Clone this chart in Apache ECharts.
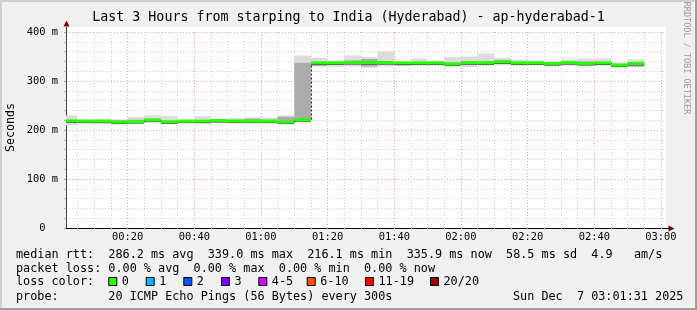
<!DOCTYPE html>
<html>
<head>
<meta charset="utf-8">
<script src="https://cdn.jsdelivr.net/npm/echarts@6/dist/echarts.min.js"></script>
<style>
html,body{margin:0;padding:0;background:#f0f0f0;}
#c{width:697px;height:310px;}
</style>
</head>
<body>
<div id="c"></div>
<script>
// ---------------- data ----------------
const TITLE = 'Last 3 Hours from starping to India (Hyderabad) - ap-hyderabad-1';
// end of each 5-minute bin, minutes after 00:00
const binEnd = [5,10,15,20,25,30,35,40,45,50,55,60,65,70,75,80,85,90,95,100,105,110,115,120,125,130,135,140,145,150,155,160,165,170,175];
// median RTT (ms)
const median = [218.5,218.1,218.1,216.1,217.4,220.1,216.8,218.1,218.1,219.4,218.1,218.1,218.1,216.1,221.4,
                337.0,337.0,337.7,337.7,337.7,337.0,337.0,337.0,334.6,337.7,337.0,339.0,337.0,337.0,335.9,337.7,335.9,337.0,332.5,335.9];
// lowest / highest ping (light smoke)
const pingLo = [209.8,213.7,213.0,212.3,213.0,216.0,214.4,214.4,213.0,214.4,214.4,214.4,214.4,214.4,216.0,
                329.3,329.3,329.3,326.6,329.3,331.4,331.4,331.4,331.4,328.0,331.4,332.0,331.4,332.0,330.7,331.4,331.4,331.4,330.0,328.0];
const pingHi = [229.9,222.0,223.0,222.0,226.3,230.0,228.6,222.0,228.0,223.0,224.3,226.0,225.6,230.0,352.0,
                347.2,341.8,352.2,348.7,360.5,339.5,346.0,341.8,348.7,350.0,356.3,347.2,343.2,341.8,339.5,344.0,346.0,346.0,337.8,344.0];
// inner smoke band
const coreLo = [215.0,216.0,216.0,214.0,216.0,218.0,215.5,216.5,216.0,217.0,216.0,216.0,216.0,215.0,221.0,
                331.0,333.0,335.0,330.0,334.0,331.5,334.0,334.0,333.0,333.0,334.0,335.0,334.0,335.0,331.0,334.0,332.0,333.0,331.5,329.5];
const coreHi = [221.0,220.0,220.0,220.0,221.0,224.0,219.0,220.0,220.0,221.0,221.0,223.0,221.0,227.0,337.0,
                339.0,339.0,342.0,345.0,340.0,338.0,339.0,339.0,338.0,341.0,341.0,343.0,339.0,339.0,338.0,340.0,340.0,339.0,335.0,337.0];

const xTicks = [20,40,60,80,100,120,140,160,180];
const xTickLabels = ['00:20','00:40','01:00','01:20','01:40','02:00','02:20','02:40','03:00'];
const xMinorTicks = [5,10,15,20,25,30,35,40,45,50,55,60,65,70,75,80,85,90,95,100,105,110,115,120,125,130,135,140,145,150,155,160,165,170,175,180];
const yTicks = [0,100,200,300,400];
const yTickLabels = ['0  ','100 m','200 m','300 m','400 m'];

const statLine1 = 'median rtt:  286.2 ms avg  339.0 ms max  216.1 ms min  335.9 ms now  58.5 ms sd  4.9   am/s';
const statLine2 = 'packet loss: 0.00 % avg  0.00 % max  0.00 % min  0.00 % now';
const lossTitle = 'loss color:';
const lossLabels = ['0','1','2','3','4-5','6-10','11-19','20/20'];
const lossColors = ['#26ff00','#00b8ff','#0059ff','#7e00ff','#dd00ff','#ff5500','#ff0000','#a10000'];
const probeLine = 'probe:       20 ICMP Echo Pings (56 Bytes) every 300s';
const stampLine = 'Sun Dec  7 03:01:31 2025';
const sideText = 'RRDTOOL / TOBI OETIKER';

// ---------------- layout ----------------
const MONO = "'DejaVu Sans Mono', monospace";
const STEP = 5;
const X_MIN = 1 + 31/60, X_MAX = 181 + 31/60;
const lossBoxX = [108.3,145.7,183.3,221,258.3,306.7,365,430];

const data = binEnd.map((t,i)=>[t, median[i], pingLo[i], pingHi[i], coreLo[i], coreHi[i]]);

function renderItem(params, api){
  const end = api.value(0), med = api.value(1);
  const start = end - STEP;
  const x0 = api.coord([start, 0])[0], x1 = api.coord([end, 0])[0];
  const yLo = api.coord([end, api.value(2)])[1], yHi = api.coord([end, api.value(3)])[1];
  const cLo = api.coord([end, api.value(4)])[1], cHi = api.coord([end, api.value(5)])[1];
  const ym = api.coord([end, med])[1];
  const ch = [];
  ch.push({type:'rect', shape:{x:x0, y:yHi, width:x1-x0, height:yLo-yHi}, style:{fill:'#dcdcdc'}});
  ch.push({type:'rect', shape:{x:x0, y:cHi, width:x1-x0, height:cLo-cHi}, style:{fill:'#ababab'}});
  ch.push({type:'line', shape:{x1:x0, y1:ym+1.5, x2:x1, y2:ym+1.5}, style:{stroke:'#303030', lineWidth:1}});
  if (params.dataIndexInside > 0) {
    const yp = api.coord([end, api.value(1, params.dataIndexInside-1)])[1];
    ch.push({type:'line', shape:{x1:x0+0.5, y1:yp, x2:x0+0.5, y2:ym}, style:{stroke:'#202020', lineWidth:1, lineDash:[2,2]}});
  }
  ch.push({type:'rect', shape:{x:x0, y:ym-1.5, width:x1-x0, height:3}, style:{fill:lossColors[0]}});
  return {type:'group', children:ch};
}

const graphics = [];
// frame shading
graphics.push({type:'rect', shape:{x:0,y:0,width:697,height:2}, style:{fill:'#cfcfcf'}, silent:true});
graphics.push({type:'rect', shape:{x:0,y:0,width:2,height:310}, style:{fill:'#cfcfcf'}, silent:true});
graphics.push({type:'rect', shape:{x:0,y:308,width:697,height:2}, style:{fill:'#9e9e9e'}, silent:true});
graphics.push({type:'rect', shape:{x:695,y:0,width:2,height:310}, style:{fill:'#9e9e9e'}, silent:true});
// canvas strip above top grid line
graphics.push({type:'rect', shape:{x:66,y:27,width:600,height:5}, style:{fill:'#ffffff'}, silent:true, z:-1});
// axis extensions + arrows
graphics.push({type:'line', shape:{x1:666,y1:228.5,x2:670,y2:228.5}, style:{stroke:'#000',lineWidth:1}, silent:true});
graphics.push({type:'polygon', shape:{points:[[668.5,225.5],[674.5,228.5],[668.5,231.5]]}, style:{fill:'#7f0000'}, silent:true});
graphics.push({type:'line', shape:{x1:66.5,y1:32,x2:66.5,y2:27}, style:{stroke:'#444',lineWidth:1}, silent:true});
graphics.push({type:'polygon', shape:{points:[[63.5,26.5],[66.5,20.5],[69.5,26.5]]}, style:{fill:'#7f0000'}, silent:true});
// y axis title
graphics.push({type:'text', x:10.5, y:127.5, rotation:Math.PI/2,
  style:{text:'Seconds', fontSize:11.6, fontFamily:MONO, fill:'#000', align:'center', verticalAlign:'middle', textAlign:'center', textVerticalAlign:'middle'}});
// side watermark
graphics.push({type:'text', x:686.5, y:58, rotation:-Math.PI/2,
  style:{text:sideText, fontSize:8.5, fontFamily:MONO, fill:'#9a9a9a', align:'center', verticalAlign:'middle', textAlign:'center', textVerticalAlign:'middle'}});
// legend lines
function txt(t, x, y, align){
  return {type:'text', x:x, y:y, style:{text:t, fontSize:11.8, fontFamily:MONO, fill:'#000', align:align||'left', verticalAlign:'middle', textAlign:align||'left', textVerticalAlign:'middle'}};
}
graphics.push(txt(statLine1, 16, 254.5));
graphics.push(txt(statLine2, 16, 268.5));
graphics.push(txt(lossTitle, 16, 282));
lossLabels.forEach((lab,i)=>{
  graphics.push({type:'rect', shape:{x:lossBoxX[i]+0.5, y:277.5, width:8, height:8}, style:{fill:lossColors[i], stroke:'#000', lineWidth:1}});
  graphics.push(txt(lab, lossBoxX[i]+13.5, 282));
});
graphics.push(txt(probeLine, 16, 296.5));
graphics.push(txt(stampLine, 513, 296.5));

const option = {
  backgroundColor:'#f0f0f0',
  animation:false,
  title:{text:TITLE, left:'center', top:11, padding:0,
    textStyle:{fontFamily:MONO, fontSize:13.3, fontWeight:'normal', color:'#000'}},
  grid:{left:66, right:31, top:32, bottom:82, show:true, backgroundColor:'#ffffff', borderWidth:0, containLabel:false},
  xAxis:{type:'value', min:X_MIN, max:X_MAX,
    axisLine:{show:true, onZero:false, lineStyle:{color:'#000', width:1}},
    axisTick:{show:true, length:2, customValues:xMinorTicks, lineStyle:{color:'#c0c0c0'}},
    axisLabel:{show:true, customValues:xTicks, formatter:(v)=>{const i=xTicks.indexOf(v); return i>=0?xTickLabels[i]:'';},
      fontFamily:MONO, fontSize:10.4, color:'#000', margin:4},
    splitLine:{show:true, lineStyle:{color:['#cfcfcf','#cfcfcf','#cfcfcf','#eda3a3'], type:[1,2], width:1}}
  },
  yAxis:{type:'value', min:0, max:400, interval:100,
    axisLine:{show:true, lineStyle:{color:'#444', width:1}},
    axisTick:{show:true, length:2, lineStyle:{color:'#e08a8a'}},
    minorTick:{show:true, splitNumber:5, length:2, lineStyle:{color:'#b0b0b0'}},
    axisLabel:{formatter:(v)=>{const i=yTicks.indexOf(v); return i>=0?yTickLabels[i]:'';},
      fontFamily:MONO, fontSize:10.4, color:'#000', margin:8},
    splitLine:{show:true, lineStyle:{color:'#eda3a3', type:[1,2], width:1}},
    minorSplitLine:{show:true, lineStyle:{color:'#cfcfcf', type:[1,2], width:1}}
  },
  graphic:graphics,
  series:[{type:'custom', renderItem:renderItem, data:data, clip:true, encode:{x:0, y:1}}]
};

const chart = echarts.init(document.getElementById('c'), null, {renderer:'canvas', width:697, height:310});
chart.setOption(option);
</script>
</body>
</html>
